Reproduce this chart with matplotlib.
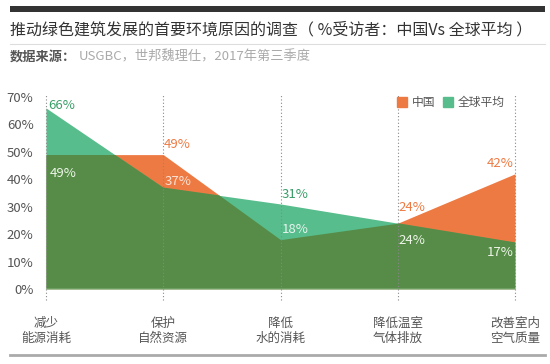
import matplotlib
matplotlib.use("Agg")
import matplotlib.pyplot as plt
from matplotlib.patches import Patch, Rectangle
from matplotlib.lines import Line2D

plt.rcParams['font.family'] = ['Noto Sans CJK SC', 'DejaVu Sans']

categories = ["减少\n能源消耗", "保护\n自然资源", "降低\n水的消耗", "降低温室\n气体排放", "改善室内\n空气质量"]
china = [49, 49, 18, 24, 42]
world = [66, 37, 31, 24, 17]
yticks = [0, 10, 20, 30, 40, 50, 60, 70]

c_orange = "#ee7a43"
c_teal = "#58bd8c"
c_dark = "#568c48"

W, H = 550, 364
fig = plt.figure(figsize=(5.5, 3.64), dpi=100)
fig.patch.set_facecolor("white")

# header bits
fig.add_artist(Rectangle((10 / W, 1 - 12 / H), 535 / W, 6 / H, transform=fig.transFigure,
                         color="#333333", lw=0))
fig.text(10 / W, 1 - 30 / H, "推动绿色建筑发展的首要环境原因的调查（ %受访者：中国Vs 全球平均 ）",
         fontsize=11.5, color="#333333", va="center", ha="left")
fig.add_artist(Line2D([10 / W, 545 / W], [1 - 44 / H] * 2, transform=fig.transFigure,
                      color="#dddddd", lw=0.8))
fig.text(10 / W, 1 - 57 / H, "数据来源：", fontsize=9.5, color="#555555",
         fontweight="bold", va="center", ha="left")
fig.text(79 / W, 1 - 57 / H, "USGBC，世邦魏理仕，2017年第三季度", fontsize=9.5,
         color="#aaaaaa", va="center", ha="left")
fig.add_artist(Line2D([10 / W, 545 / W], [1 - 355 / H] * 2, transform=fig.transFigure,
                      color="#aaaaaa", lw=2))

# plot area
ax = fig.add_axes([46 / W, (H - 289) / H, 469 / W, 192 / H])
x = list(range(len(categories)))
ax.set_xlim(0, len(categories) - 1)
ax.set_ylim(0, 70)

ax.fill_between(x, 0, china, color=c_orange, lw=0, zorder=1)
wpoly = ax.fill_between(x, 0, world, color=c_teal, lw=0, zorder=2)
dark = ax.fill_between(x, 0, china, color=c_dark, lw=0, zorder=3)
dark.set_clip_path(wpoly.get_paths()[0], ax.transData)
ax.axhline(0, color="#c9efc9", lw=1, zorder=4)

ax.vlines(x, -4, 71, colors="#888888", linestyles=(0, (1, 2)), lw=0.8,
          zorder=5, clip_on=False)

for s in ax.spines.values():
    s.set_visible(False)
ax.set_yticks(yticks)
ax.set_yticklabels([f"{v}%" for v in yticks])
ax.tick_params(axis="y", length=0, pad=9, labelsize=9.5, labelcolor="#555555")
ax.set_xticks(x)
ax.set_xticklabels(categories)
ax.tick_params(axis="x", length=0, pad=20, labelsize=9, labelcolor="#555555")
for lab in ax.get_xticklabels():
    lab.set_linespacing(1.2)

# value labels: (series, index, color, offset in px, ha)
labels = [
    (world, 0, "#3a9e68", (2, 2), "left"),
    (china, 0, "#eef6e8", (4, -19), "left"),
    (china, 1, c_orange, (1, 10), "left"),
    (world, 1, "#fbe3d6", (1, 6), "left"),
    (world, 2, "#3a9e68", (1, 9), "left"),
    (china, 2, "#e6f4ee", (1, 10), "left"),
    (china, 3, c_orange, (1, 16), "left"),
    (world, 3, "#eef6e8", (1, -17), "left"),
    (china, 4, c_orange, (-1, 10), "right"),
    (world, 4, "#eef6e8", (-1, -10), "right"),
]
for ser, i, col, off, ha in labels:
    ax.annotate(f"{ser[i]}%", (i, ser[i]), xytext=off, textcoords="offset pixels",
                ha=ha, va="center", fontsize=9.5, color=col, zorder=6)

handles = [Patch(color=c_orange, label="中国"), Patch(color=c_teal, label="全球平均")]
ax.legend(handles=handles, loc="upper right", bbox_to_anchor=(1.0, 1.06), ncol=2,
          frameon=False, fontsize=8.5, handlelength=0.8, handleheight=0.8,
          handletextpad=0.4, columnspacing=0.7, labelcolor="#555555")

fig.savefig("out.png", dpi=100)
